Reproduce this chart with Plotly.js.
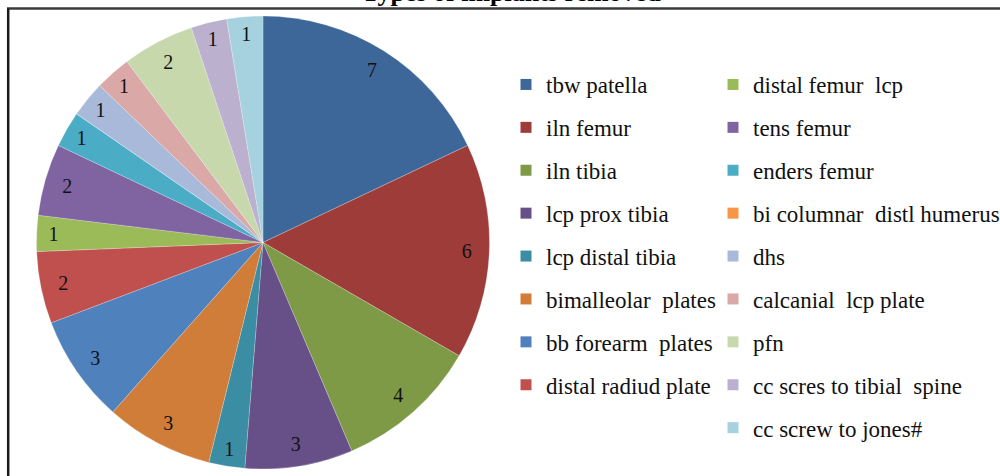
<!DOCTYPE html>
<html>
<head>
<meta charset="utf-8">
<script src="https://cdn.plot.ly/plotly-3.0.1.min.js"></script>
<style>html,body{margin:0;padding:0;background:#fff;}#chart{width:1000px;height:476px;}</style>
</head>
<body>
<div id="chart"></div>
<script>
// ---- data ----
const chartTitle = 'Types of implants removed';
const categories = [
  'tbw patella', 'iln femur', 'iln tibia', 'lcp prox tibia', 'lcp distal tibia',
  'bimalleolar  plates', 'bb forearm  plates', 'distal radiud plate',
  'distal femur  lcp', 'tens femur', 'enders femur', 'bi columnar  distl humerus',
  'dhs', 'calcanial  lcp plate', 'pfn', 'cc scres to tibial  spine', 'cc screw to jones#'
];
const counts = [7, 6, 4, 3, 1, 3, 3, 2, 1, 2, 1, 0, 1, 1, 2, 1, 1];
const sliceColors = [
  '#3D6799', '#9E3C3A', '#7E9A47', '#674F88', '#3A8DA2', '#D07D39',
  '#4F81BD', '#C0504D', '#9BBB59', '#8064A2', '#4BACC6', '#F79646',
  '#A8B9DA', '#DAA8A7', '#C8D8AD', '#BBB0CE', '#A6D2DF'
];
const firstColumnCount = 8;

// ---- layout helpers ----
const W = 1000, H = 476;
const px = x => x / W;
const py = y => 1 - y / H;
const serif = '"Liberation Serif", "Times New Roman", serif';

const pieDomain = {x: [px(36), px(490)], y: [py(469), py(16)]};

const traces = [
  {
    type: 'pie',
    values: counts,
    labels: categories,
    marker: {colors: sliceColors, line: {color: 'rgba(255,255,255,0.45)', width: 0.5}},
    sort: false,
    direction: 'clockwise',
    rotation: 0,
    textinfo: 'none',
    showlegend: false,
    domain: pieDomain
  },
  {
    type: 'pie',
    values: counts,
    labels: categories,
    hole: 0.8,
    marker: {colors: categories.map(() => 'rgba(0,0,0,0)'), line: {width: 0}},
    sort: false,
    direction: 'clockwise',
    rotation: 0,
    texttemplate: counts.map(v => v > 0 ? '%{value}' : ''),
    textposition: 'inside',
    insidetextorientation: 'horizontal',
    textfont: {family: serif, size: 20, color: '#111'},
    hoverinfo: 'skip',
    showlegend: false,
    domain: pieDomain
  }
];

categories.forEach((name, i) => {
  traces.push({
    type: 'scatter',
    mode: 'markers',
    x: [null], y: [null],
    name: name,
    legendgroup: 'g' + i,
    legend: i < firstColumnCount ? 'legend' : 'legend2',
    marker: {symbol: 'square', size: 11, color: sliceColors[i], line: {width: 0}},
    hoverinfo: 'skip'
  });
});

function legendAt(x, y) {
  return {
    font: {family: serif, size: 23, color: '#111'},
    bgcolor: 'rgba(0,0,0,0)',
    borderwidth: 0,
    traceorder: 'grouped',
    tracegroupgap: 10,
    xanchor: 'left',
    yanchor: 'top',
    itemclick: false,
    itemdoubleclick: false,
    x: x, y: y
  };
}

const layout = {
  width: W, height: H,
  margin: {l: 0, r: 0, t: 0, b: 0, autoexpand: false},
  font: {family: serif, color: '#111'},
  paper_bgcolor: '#fff',
  plot_bgcolor: 'rgba(0,0,0,0)',
  xaxis: {visible: false, fixedrange: true},
  yaxis: {visible: false, fixedrange: true},
  legend: legendAt(px(506), py(63)),
  legend2: legendAt(px(713), py(63)),
  annotations: [{
    text: chartTitle,
    xref: 'paper', yref: 'paper',
    x: px(511), y: py(8.6),
    xanchor: 'center', yanchor: 'bottom',
    showarrow: false,
    font: {family: serif, size: 26, color: '#000', weight: 'bold'}
  }],
  shapes: [
    {type: 'line', xref: 'paper', yref: 'paper', x0: px(7), x1: 1, y0: py(8.5), y1: py(8.5),
     line: {color: '#3a3a3a', width: 2.5}},
    {type: 'line', xref: 'paper', yref: 'paper', x0: px(8.2), x1: px(8.2), y0: py(8.5), y1: 0,
     line: {color: '#1a1a1a', width: 2.5}}
  ]
};

Plotly.newPlot('chart', traces, layout, {displayModeBar: false});
</script>
</body>
</html>
